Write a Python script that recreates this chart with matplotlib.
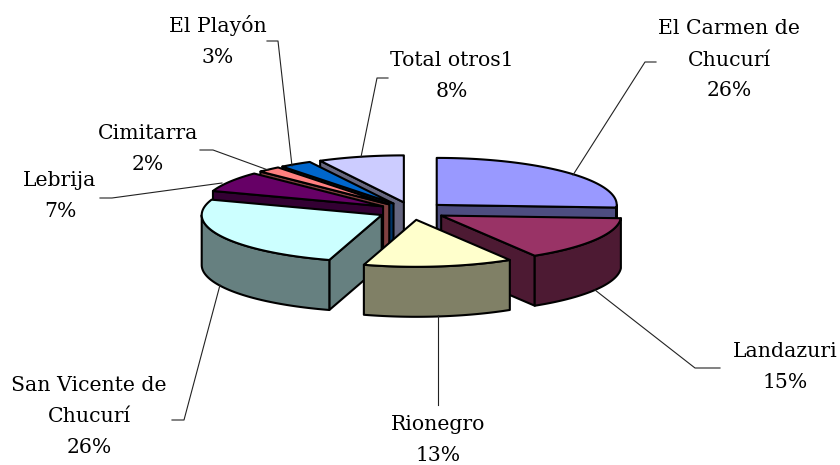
import numpy as np
import matplotlib
matplotlib.use('Agg')
import matplotlib.pyplot as plt
from matplotlib.patches import Polygon
from matplotlib.colors import to_rgb

# clockwise from 12 o'clock
labels = ['El Carmen de\nChucurí', 'Landazuri', 'Rionegro', 'San Vicente de\nChucurí',
          'Lebrija', 'Cimitarra', 'El Playón', 'Total otros1']
shares = [25.9, 15.4, 13.4, 25.6, 7.0, 2.1, 2.9, 7.7]
colors = ['#9999FF', '#993366', '#FFFFCC', '#CCFFFF', '#660066', '#FF8080', '#0066CC', '#CCCCFF']

# label centre, then leader line from the pie out to the label
label_pos = [(729, 60), (785, 367), (438, 440), (89, 416), (60, 196), (148, 149), (218, 41), (452, 76)]
leaders = [
    [(573, 175), (645, 62), (656, 62)],
    [(595, 290), (695, 368), (720, 368)],
    [(438, 315), (438, 405)],
    [(220, 285), (184, 420), (172, 420)],
    [(222, 183), (112, 198), (100, 198)],
    [(268, 170), (213, 150), (200, 150)],
    [(292, 166), (278, 41), (267, 41)],
    [(361, 157), (377, 78), (388, 78)],
]
draw_order = [7, 6, 5, 4, 0, 3, 1, 2]

cx, cy = 412, 211
rx, ry = 180, 47
explode = 34
depth = 50
edge = dict(edgecolor='black', linewidth=1.5, joinstyle='round')

fig = plt.figure(figsize=(8.4, 4.65), dpi=100)
ax = fig.add_axes([0, 0, 1, 1])
ax.set_xlim(0, 840)
ax.set_ylim(465, 0)
ax.axis('off')


def rim(theta, ox, oy):
    return np.column_stack([ox + rx * np.sin(theta), oy - ry * np.cos(theta)])


edges = np.radians(np.concatenate([[0], np.cumsum(shares)]) / sum(shares) * 360)

for i in draw_order:
    a0, a1 = edges[i], edges[i + 1]
    mid = (a0 + a1) / 2
    ox = cx + explode * np.sin(mid)
    oy = cy - explode * ry / rx * np.cos(mid)
    top = np.array([ox, oy])
    down = np.array([0, depth])
    side = np.array(to_rgb(colors[i])) * 0.5

    # radial faces that look at the viewer
    for a, seen in ((a0, np.sin(a0) < 0), (a1, np.sin(a1) > 0)):
        if seen:
            p = rim(np.array([a]), ox, oy)[0]
            ax.add_patch(Polygon([top, p, p + down, top + down], facecolor=side, **edge))

    # outer wall, front half only
    lo, hi = max(a0, np.pi / 2), min(a1, 3 * np.pi / 2)
    if hi > lo:
        arc = rim(np.linspace(lo, hi, 60), ox, oy)
        ax.add_patch(Polygon(np.vstack([arc, arc[::-1] + down]), facecolor=side, **edge))

    arc = rim(np.linspace(a0, a1, 80), ox, oy)
    ax.add_patch(Polygon(np.vstack([top, arc]), facecolor=colors[i], **edge))

for line in leaders:
    xs, ys = zip(*line)
    ax.plot(xs, ys, color='#222222', lw=0.8)

for name, share, (x, y) in zip(labels, shares, label_pos):
    ax.text(x, y, f'{name}\n{share:.0f}%', ha='center', va='center', family='DejaVu Serif',
            fontsize=14.7, linespacing=1.8, color='black')

fig.savefig('out.png', dpi=100)
